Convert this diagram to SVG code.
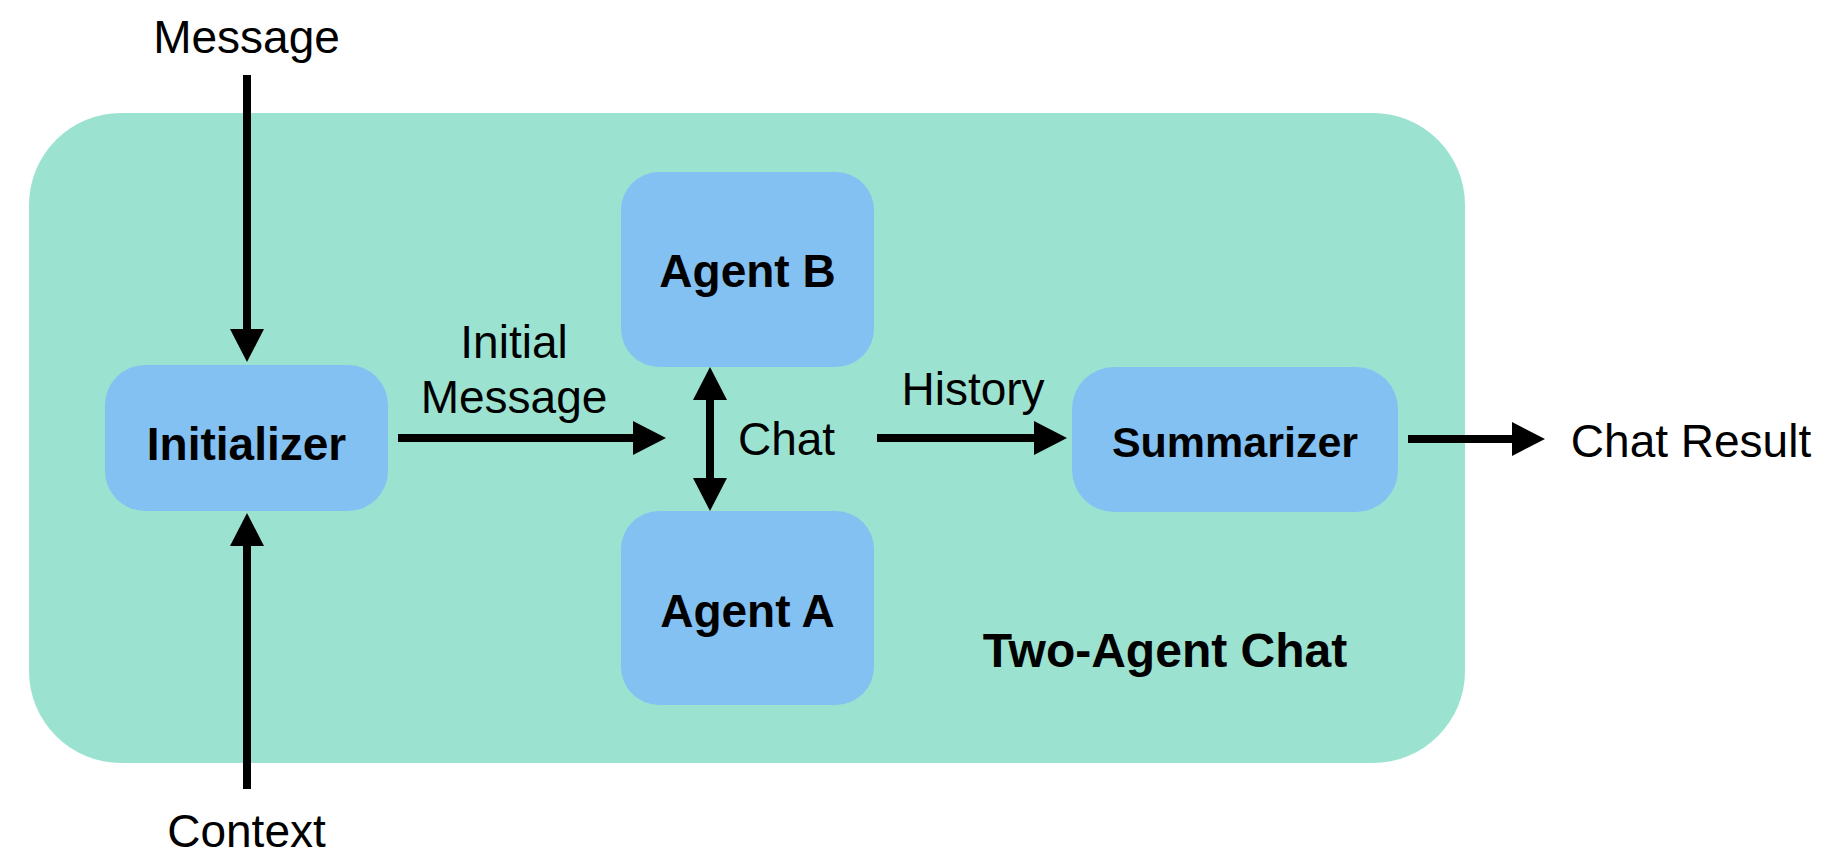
<svg xmlns="http://www.w3.org/2000/svg" width="1828" height="856" viewBox="0 0 1828 856">
  <style>
    .container { fill: #9be3d0; }
    .box { fill: #83c1f2; }
    .label { font-family: "Liberation Sans", Arial, sans-serif; font-size: 46px; fill: #000; text-anchor: middle; }
    .bold { font-weight: bold; }
    .edge { stroke: #000; stroke-width: 8; fill: none; }
  </style>
  <defs>
    <marker id="head" markerUnits="userSpaceOnUse" markerWidth="34" markerHeight="34" refX="2" refY="17" orient="auto-start-reverse" viewBox="0 0 34 34">
      <path d="M0,0 L33,17 L0,34 Z" fill="#000"/>
    </marker>
  </defs>

  <rect width="1828" height="856" fill="#fff"/>

  <!-- Two-agent chat container -->
  <g id="two-agent-chat">
    <rect class="container" x="29" y="113" width="1436" height="650" rx="92" ry="92"/>
    <text class="label bold" x="1165" y="667" style="font-size:48px">Two-Agent Chat</text>
  </g>

  <!-- Nodes -->
  <g id="initializer">
    <rect class="box" x="105" y="365" width="283" height="146" rx="40" ry="40"/>
    <text class="label bold" x="246.5" y="460">Initializer</text>
  </g>
  <g id="agent-b">
    <rect class="box" x="621" y="172" width="253" height="195" rx="38" ry="38"/>
    <text class="label bold" x="747.5" y="287">Agent B</text>
  </g>
  <g id="agent-a">
    <rect class="box" x="621" y="511" width="253" height="194" rx="38" ry="38"/>
    <text class="label bold" x="747.5" y="627">Agent A</text>
  </g>
  <g id="summarizer">
    <rect class="box" x="1072" y="367" width="326" height="145" rx="42" ry="42"/>
    <text class="label bold" x="1235" y="457" style="font-size:43px">Summarizer</text>
  </g>

  <!-- Free-standing inputs and output -->
  <g id="message">
    <text class="label" x="246.5" y="53">Message</text>
  </g>
  <g id="context">
    <text class="label" x="246.5" y="847">Context</text>
  </g>
  <g id="chat-result">
    <text class="label" x="1691" y="457">Chat Result</text>
  </g>

  <!-- Connectors -->
  <g id="connectors">
    <line class="edge" x1="247" y1="75" x2="247" y2="331" marker-end="url(#head)"/>
    <line class="edge" x1="247" y1="789" x2="247" y2="544" marker-end="url(#head)"/>
    <line class="edge" x1="398" y1="438" x2="635" y2="438" marker-end="url(#head)"/>
    <line class="edge" x1="710" y1="398" x2="710" y2="480" marker-start="url(#head)" marker-end="url(#head)"/>
    <line class="edge" x1="877" y1="438" x2="1036" y2="438" marker-end="url(#head)"/>
    <line class="edge" x1="1408" y1="439" x2="1514" y2="439" marker-end="url(#head)"/>
    <text class="label" x="514" y="358">Initial</text>
    <text class="label" x="514" y="413">Message</text>
    <text class="label" x="786.5" y="455">Chat</text>
    <text class="label" x="973" y="405">History</text>
  </g>
</svg>
